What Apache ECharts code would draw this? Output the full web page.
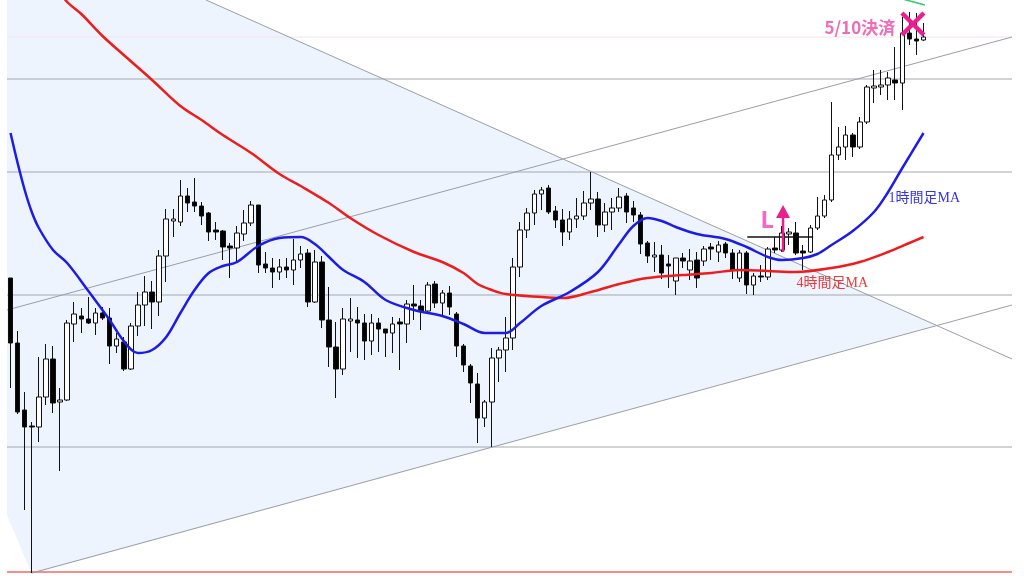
<!DOCTYPE html>
<html>
<head>
<meta charset="utf-8">
<script src="https://cdn.jsdelivr.net/npm/echarts@6/dist/echarts.min.js"></script>
<style>
  html, body { margin: 0; padding: 0; background: #ffffff; }
  #chart { width: 1024px; height: 576px; }
</style>
</head>
<body>
<div id="chart"></div>
<script>
// ---------- DATA ----------
// hourly candles [open, close, low, high]
const ohlc = [
  [152.22,151.57,151.12,152.22],[151.57,150.88,150.86,151.69],[150.90,150.73,149.90,151.08],[150.74,150.73,149.27,150.78],
  [150.73,151.03,150.58,151.43],[151.03,151.41,150.95,151.56],[151.41,150.97,150.87,151.54],[150.98,151.00,150.29,151.12],
  [151.00,151.77,150.99,151.80],[151.76,151.86,151.58,151.98],[151.84,151.81,151.67,151.92],[151.81,151.77,151.76,152.03],
  [151.77,151.87,151.65,151.92],[151.87,151.82,151.80,151.93],[151.82,151.54,151.36,151.92],[151.54,151.61,151.47,151.67],
  [151.58,151.31,151.29,151.63],[151.31,151.74,151.30,151.77],[151.74,151.95,151.64,152.08],[151.95,152.08,151.74,152.24],
  [152.08,151.98,151.71,152.19],[151.98,152.44,151.84,152.50],[152.44,152.81,152.18,152.91],[152.79,152.81,152.63,152.91],
  [152.78,153.04,152.74,153.20],[153.04,152.97,152.88,153.12],[152.98,152.94,152.88,153.22],[152.94,152.84,152.75,152.98],
  [152.87,152.68,152.59,152.88],[152.70,152.68,152.60,152.78],[152.69,152.53,152.40,152.70],[152.54,152.52,152.22,152.57],
  [152.52,152.67,152.38,152.74],[152.66,152.77,152.59,152.90],[152.77,152.95,152.74,152.99],[152.95,152.35,152.27,152.95],
  [152.36,152.32,152.27,152.48],[152.32,152.28,152.12,152.42],[152.28,152.33,152.20,152.41],[152.33,152.30,152.22,152.42],
  [152.30,152.40,152.15,152.61],[152.40,152.46,152.32,152.54],[152.47,151.98,151.93,152.51],[151.98,152.38,151.97,152.50],
  [152.38,151.80,151.72,152.44],[151.80,151.53,151.33,152.13],[151.53,151.31,151.02,151.78],[151.31,151.81,151.25,151.92],
  [151.79,151.81,151.48,152.02],[151.80,151.77,151.42,151.93],[151.77,151.59,151.40,151.86],[151.59,151.77,151.45,151.86],
  [151.77,151.71,151.48,151.82],[151.71,151.67,151.43,151.71],[151.67,151.76,151.47,151.83],[151.78,151.76,151.30,151.82],
  [151.76,151.96,151.57,152.00],[151.96,151.94,151.80,152.15],[151.94,151.89,151.70,152.00],[151.89,152.15,151.88,152.18],
  [152.16,151.97,151.92,152.19],[151.97,152.07,151.85,152.10],[152.07,151.93,151.85,152.14],[151.86,151.54,151.43,151.88],
  [151.54,151.35,151.28,151.56],[151.34,151.17,150.97,151.36],[151.16,150.82,150.57,151.27],[150.82,150.98,150.73,151.00],
  [150.98,151.42,150.53,151.52],[151.42,151.50,151.18,151.53],[151.50,151.62,151.28,151.83],[151.62,152.33,151.50,152.42],
  [152.33,152.70,152.23,152.78],[152.70,152.87,152.62,152.92],[152.87,153.06,152.75,153.10],[153.06,153.10,152.90,153.13],
  [153.12,152.88,152.86,153.15],[152.89,152.80,152.72,152.94],[152.80,152.68,152.54,152.91],[152.68,152.81,152.60,152.89],
  [152.81,152.84,152.72,153.02],[152.84,152.97,152.80,153.09],[152.97,153.01,152.90,153.28],[153.01,152.75,152.63,153.08],
  [152.75,152.88,152.68,152.97],[152.88,152.92,152.70,153.02],[152.92,153.03,152.88,153.12],[153.04,152.88,152.77,153.07],
  [152.92,152.85,152.78,152.99],[152.85,152.56,152.46,152.88],[152.57,152.44,152.37,152.59],[152.43,152.45,152.28,152.58],
  [152.45,152.27,152.21,152.55],[152.36,152.34,152.12,152.45],[152.19,152.42,152.05,152.42],[152.42,152.39,152.32,152.47],
  [152.30,152.39,152.20,152.51],[152.40,152.22,152.12,152.48],[152.39,152.51,152.34,152.54],[152.53,152.51,152.40,152.57],
  [152.48,152.55,152.38,152.59],[152.56,152.47,152.42,152.58],[152.47,152.30,152.21,152.51],[152.22,152.47,152.18,152.50],
  [152.47,152.15,152.06,152.49],[152.15,152.24,152.05,152.27],[152.24,152.23,152.18,152.35],[152.23,152.51,152.20,152.53],
  [152.52,152.50,152.47,152.63],[152.50,152.67,152.48,152.74],[152.66,152.68,152.55,152.72],[152.67,152.47,152.45,152.78],
  [152.49,152.47,152.30,152.55],[152.48,152.72,152.47,152.75],[152.72,152.84,152.70,153.03],[152.84,153.00,152.82,153.05],
  [153.00,153.45,152.98,153.98],[153.45,153.53,153.40,153.73],[153.53,153.65,153.40,153.74],[153.65,153.53,153.43,153.67],
  [153.53,153.78,153.51,153.83],[153.78,154.13,153.76,154.15],[154.12,154.14,153.97,154.30],[154.13,154.15,154.05,154.30],
  [154.15,154.22,154.00,154.28],[154.20,154.17,154.00,154.53],[154.17,154.67,153.90,154.83],[154.67,154.61,154.55,154.88],
  [154.61,154.59,154.45,154.87],[154.60,154.63,154.59,154.77]
];
const slotCount = 142; // candles + empty space on the right

// moving averages: [candle index, price]
const ma1h = [
  [0,153.67],[1,153.37],[2,153.10],[3,152.88],[4,152.72],[6,152.50],[8,152.37],[11,152.09],[14,151.80],[16,151.59],
  [18,151.47],[20,151.50],[22,151.63],[24,151.87],[26,152.10],[28,152.27],[30,152.34],[32,152.38],[35,152.54],[38,152.62],
  [41,152.63],[43,152.56],[45,152.43],[47,152.30],[50,152.18],[53,152.00],[57,151.90],[61,151.84],[64,151.76],[67,151.67],
  [70,151.67],[72,151.77],[75,151.94],[79,152.08],[83,152.28],[86,152.56],[88,152.74],[90,152.82],[92,152.79],[94,152.73],
  [97,152.66],[101,152.61],[104,152.53],[107,152.43],[109,152.40],[112,152.42],[114,152.46],[116,152.55],[119,152.69],
  [122,152.88],[124,153.08],[126,153.32],[129,153.67]
];
const ma4h = [
  [7,155.08],[8,154.98],[10,154.86],[13,154.64],[16,154.45],[20,154.20],[24,153.94],[27,153.80],[30,153.65],[34,153.47],
  [38,153.26],[41,153.14],[45,152.97],[48,152.82],[52,152.65],[57,152.48],[61,152.38],[64,152.27],[66,152.16],[68,152.10],
  [70,152.06],[75,152.03],[78,152.02],[82,152.08],[86,152.16],[90,152.22],[95,152.25],[99,152.27],[103,152.30],[107,152.29],
  [111,152.28],[116,152.32],[120,152.38],[124,152.48],[127,152.57],[129,152.63]
];

// horizontal support / resistance levels
const greyLevels = [154.21, 153.28, 152.05, 150.53];
const redLevel = 149.28;
const faintLevel = 154.63;

// trend lines [candle index, price]
const triangleUpper = [[27.62,155.00],[141.5,151.41]];
const triangleLower = [[3,149.27],[141.5,151.95]];
const channelUpper = [[-0.5,151.90],[141.5,154.63]];
const triangleShade = [[-0.5,155.00],[27.62,155.00],[130.8,151.75],[3,149.26],[-0.5,149.85]];
const entryLine = [[104.1,152.63],[113.4,152.63]];
const greenLine = [[125.5,155.02],[129.2,154.95]];

// annotations
const entryLabel = { text: 'L', at: [106.9, 152.79] };
const entryArrow = { at: 109.15, from: 152.48, to: 152.95 };
const exitLabel = { text: '5/10決済', at: [120.0, 154.72] };
const exitMark = { at: [127.5, 154.76] };
const ma1hLabel = { text: '1時間足MA', at: [129.1, 153.02] };
const ma4hLabel = { text: '4時間足MA', at: [116.1, 152.17] };

const yMin = 149.24, yMax = 155.00;

// category labels (hourly)
const categories = [];
for (let i = 0; i < slotCount; i++) {
  const d = new Date(Date.UTC(2024, 4, 4, 19) + i * 3600000);
  categories.push((d.getUTCMonth() + 1) + '/' + d.getUTCDate() + ' ' + String(d.getUTCHours()).padStart(2, '0') + ':00');
}

// ---------- CHART ----------
const chart = echarts.init(document.getElementById('chart'), null, { renderer: 'canvas' });

function seg(data, color, width, z) {
  return {
    type: 'line', xAxisIndex: 1, yAxisIndex: 0, data: data, symbol: 'none', silent: true,
    lineStyle: { color: color, width: width }, z: z, animation: false
  };
}

const option = {
  animation: false,
  backgroundColor: '#ffffff',
  grid: { left: 7, right: 12, top: 0, bottom: 0, containLabel: false },
  xAxis: [
    { type: 'category', data: categories, boundaryGap: true, show: false },
    { type: 'value', min: -0.5, max: slotCount - 0.5, show: false }
  ],
  yAxis: [{ type: 'value', min: yMin, max: yMax, show: false, splitLine: { show: false }, scale: true }],
  series: [
    {
      type: 'custom', xAxisIndex: 1, yAxisIndex: 0, silent: true, z: 0,
      data: [[0, 152]],
      renderItem: function (params, api) {
        return {
          type: 'polygon',
          shape: { points: triangleShade.map(function (p) { return api.coord(p); }) },
          style: { fill: '#edf4fd', stroke: null }
        };
      }
    },
    seg([[-0.5, faintLevel], [slotCount - 0.5, faintLevel]], '#f5e3ec', 1, 1),
    seg([[-0.5, greyLevels[0]], [slotCount - 0.5, greyLevels[0]]], '#a3a7ae', 1, 1),
    seg([[-0.5, greyLevels[1]], [slotCount - 0.5, greyLevels[1]]], '#a3a7ae', 1, 1),
    seg([[-0.5, greyLevels[2]], [slotCount - 0.5, greyLevels[2]]], '#a3a7ae', 1, 1),
    seg([[-0.5, greyLevels[3]], [slotCount - 0.5, greyLevels[3]]], '#a3a7ae', 1, 1),
    seg([[-0.5, redLevel], [slotCount - 0.5, redLevel]], '#f06a6a', 1.5, 1),
    seg(triangleUpper, '#9a9ea6', 1, 1),
    seg(triangleLower, '#9a9ea6', 1, 1),
    seg(channelUpper, '#9a9ea6', 1, 1),
    seg(greenLine, '#35c46a', 1.5, 1),
    {
      type: 'candlestick', xAxisIndex: 0, yAxisIndex: 0, data: ohlc, barWidth: 5, z: 3,
      itemStyle: { color: '#ffffff', color0: '#000000', borderColor: '#111111', borderColor0: '#111111', borderWidth: 1 },
      silent: true
    },
    seg(entryLine, '#111111', 1.5, 4),
    {
      type: 'line', xAxisIndex: 1, yAxisIndex: 0, data: ma4h, symbol: 'none', smooth: 0.35, silent: true,
      lineStyle: { color: '#ee1c1c', width: 2.5 }, z: 5
    },
    {
      type: 'line', xAxisIndex: 1, yAxisIndex: 0, data: ma1h, symbol: 'none', smooth: 0.35, silent: true,
      lineStyle: { color: '#1c1ce6', width: 2.5 }, z: 5
    }
  ]
};
chart.setOption(option);

function px(p) { return chart.convertToPixel({ xAxisIndex: 1, yAxisIndex: 0 }, p); }

const lPos = px(entryLabel.at);
const aTop = px([entryArrow.at, entryArrow.to]);
const aBot = px([entryArrow.at, entryArrow.from]);
const eLab = px(exitLabel.at);
const xPos = px(exitMark.at);
const m1 = px(ma1hLabel.at);
const m4 = px(ma4hLabel.at);
const xs = 11;

chart.setOption({
  graphic: [
    { type: 'text', z: 10, style: { text: entryLabel.text, x: lPos[0], y: lPos[1], align: 'center', verticalAlign: 'middle',
      font: 'bold 24px "Noto Sans", sans-serif', fill: '#f06cc4' } },
    { type: 'line', z: 10, shape: { x1: aBot[0], y1: aBot[1], x2: aTop[0], y2: aTop[1] + 10 },
      style: { stroke: '#ea1f8e', lineWidth: 2.5 } },
    { type: 'polygon', z: 10, shape: { points: [[aTop[0], aTop[1]], [aTop[0] - 7, aTop[1] + 13], [aTop[0] + 7, aTop[1] + 13]] },
      style: { fill: '#ea1f8e' } },
    { type: 'text', z: 10, style: { text: exitLabel.text, x: eLab[0], y: eLab[1], align: 'center', verticalAlign: 'middle',
      font: 'bold 17px "Noto Sans CJK JP", sans-serif', fill: '#f06cb8' } },
    { type: 'line', z: 10, shape: { x1: xPos[0] - xs, y1: xPos[1] - xs, x2: xPos[0] + xs, y2: xPos[1] + xs },
      style: { stroke: '#ea1f8e', lineWidth: 4.5 } },
    { type: 'line', z: 10, shape: { x1: xPos[0] + xs, y1: xPos[1] - xs, x2: xPos[0] - xs, y2: xPos[1] + xs },
      style: { stroke: '#ea1f8e', lineWidth: 4.5 } },
    { type: 'text', z: 10, style: { text: ma1hLabel.text, x: m1[0], y: m1[1], align: 'center', verticalAlign: 'middle',
      font: '14px "Liberation Serif", "Noto Sans CJK JP", serif', fill: '#3535e0' } },
    { type: 'text', z: 10, style: { text: ma4hLabel.text, x: m4[0], y: m4[1], align: 'center', verticalAlign: 'middle',
      font: '14px "Liberation Serif", "Noto Sans CJK JP", serif', fill: '#ec3a3a' } }
  ]
});
</script>
</body>
</html>
